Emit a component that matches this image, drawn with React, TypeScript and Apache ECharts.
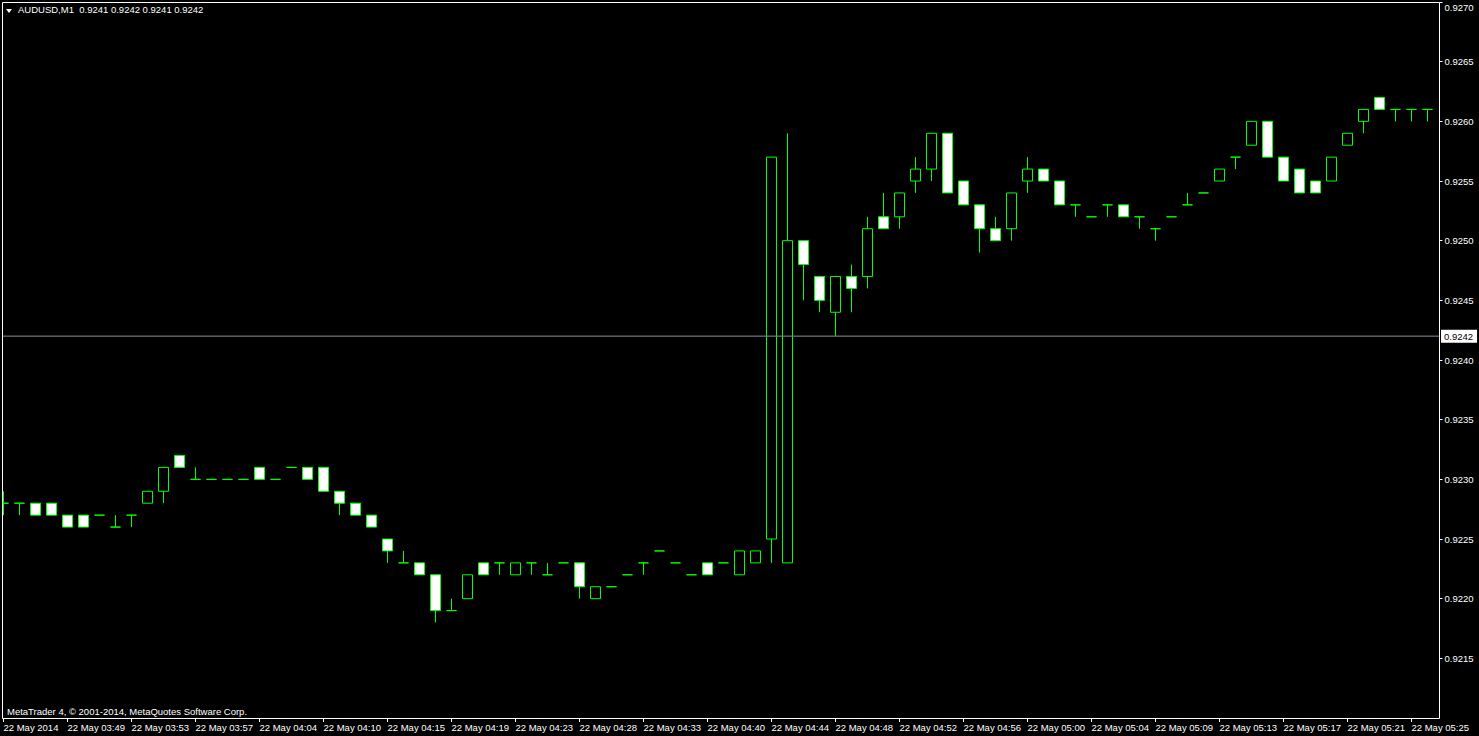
import React, { useEffect, useRef } from "react";
import * as echarts from "echarts";

// Bar prices (AUDUSD M1), one entry per bar
const opens = [
  0.9228, 0.9228, 0.9228, 0.9228, 0.9227, 0.9227, 0.9227, 0.9226, 0.9227, 0.9228,
  0.9229, 0.9232, 0.9230, 0.9230, 0.9230, 0.9230, 0.9231, 0.9230, 0.9231, 0.9231,
  0.9231, 0.9229, 0.9228, 0.9227, 0.9225, 0.9223, 0.9223, 0.9222, 0.9219, 0.9220,
  0.9223, 0.9223, 0.9222, 0.9223, 0.9222, 0.9223, 0.9223, 0.9220, 0.9221, 0.9222,
  0.9223, 0.9224, 0.9223, 0.9222, 0.9223, 0.9223, 0.9222, 0.9223, 0.9225, 0.9223,
  0.9250, 0.9247, 0.9244, 0.9247, 0.9247, 0.9252, 0.9252, 0.9255, 0.9256, 0.9259,
  0.9255, 0.9253, 0.9251, 0.9251, 0.9255, 0.9256, 0.9255, 0.9253, 0.9252, 0.9253,
  0.9253, 0.9252, 0.9251, 0.9252, 0.9253, 0.9254, 0.9255, 0.9257, 0.9258, 0.9260,
  0.9257, 0.9256, 0.9255, 0.9255, 0.9258, 0.9260, 0.9262, 0.9261, 0.9261, 0.9261,
];
const closes = [
  0.9228, 0.9228, 0.9227, 0.9227, 0.9226, 0.9226, 0.9227, 0.9226, 0.9227, 0.9229,
  0.9231, 0.9231, 0.9230, 0.9230, 0.9230, 0.9230, 0.9230, 0.9230, 0.9231, 0.9230,
  0.9229, 0.9228, 0.9227, 0.9226, 0.9224, 0.9223, 0.9222, 0.9219, 0.9219, 0.9222,
  0.9222, 0.9223, 0.9223, 0.9223, 0.9222, 0.9223, 0.9221, 0.9221, 0.9221, 0.9222,
  0.9223, 0.9224, 0.9223, 0.9222, 0.9222, 0.9223, 0.9224, 0.9224, 0.9257, 0.9250,
  0.9248, 0.9245, 0.9247, 0.9246, 0.9251, 0.9251, 0.9254, 0.9256, 0.9259, 0.9254,
  0.9253, 0.9251, 0.9250, 0.9254, 0.9256, 0.9255, 0.9253, 0.9253, 0.9252, 0.9253,
  0.9252, 0.9252, 0.9251, 0.9252, 0.9253, 0.9254, 0.9256, 0.9257, 0.9260, 0.9257,
  0.9255, 0.9254, 0.9254, 0.9257, 0.9259, 0.9261, 0.9261, 0.9261, 0.9261, 0.9261,
];
const lows = [
  0.9227, 0.9227, 0.9227, 0.9227, 0.9226, 0.9226, 0.9227, 0.9226, 0.9226, 0.9228,
  0.9228, 0.9231, 0.9230, 0.9230, 0.9230, 0.9230, 0.9230, 0.9230, 0.9231, 0.9230,
  0.9229, 0.9227, 0.9227, 0.9226, 0.9223, 0.9223, 0.9222, 0.9218, 0.9219, 0.9220,
  0.9222, 0.9222, 0.9222, 0.9222, 0.9222, 0.9223, 0.9220, 0.9220, 0.9221, 0.9222,
  0.9222, 0.9224, 0.9223, 0.9222, 0.9222, 0.9223, 0.9222, 0.9223, 0.9223, 0.9223,
  0.9245, 0.9244, 0.9242, 0.9244, 0.9246, 0.9251, 0.9251, 0.9254, 0.9255, 0.9254,
  0.9253, 0.9249, 0.9250, 0.9250, 0.9254, 0.9255, 0.9253, 0.9252, 0.9252, 0.9252,
  0.9252, 0.9251, 0.9250, 0.9252, 0.9253, 0.9254, 0.9255, 0.9256, 0.9258, 0.9257,
  0.9255, 0.9254, 0.9254, 0.9255, 0.9258, 0.9259, 0.9261, 0.9260, 0.9260, 0.9260,
];
const highs = [
  0.9229, 0.9228, 0.9228, 0.9228, 0.9227, 0.9227, 0.9227, 0.9227, 0.9227, 0.9229,
  0.9231, 0.9232, 0.9231, 0.9230, 0.9230, 0.9230, 0.9231, 0.9230, 0.9231, 0.9231,
  0.9231, 0.9229, 0.9228, 0.9227, 0.9225, 0.9224, 0.9223, 0.9222, 0.9220, 0.9222,
  0.9223, 0.9223, 0.9223, 0.9223, 0.9223, 0.9223, 0.9223, 0.9221, 0.9221, 0.9222,
  0.9223, 0.9224, 0.9223, 0.9222, 0.9223, 0.9223, 0.9224, 0.9224, 0.9257, 0.9259,
  0.9250, 0.9247, 0.9247, 0.9248, 0.9252, 0.9254, 0.9254, 0.9257, 0.9259, 0.9259,
  0.9255, 0.9253, 0.9252, 0.9254, 0.9257, 0.9256, 0.9255, 0.9253, 0.9252, 0.9253,
  0.9253, 0.9252, 0.9251, 0.9252, 0.9254, 0.9254, 0.9256, 0.9257, 0.9260, 0.9260,
  0.9257, 0.9256, 0.9255, 0.9257, 0.9259, 0.9261, 0.9262, 0.9261, 0.9261, 0.9261,
];

// Time-axis labels, one every 4 bars
const timeLabels = [
  "22 May 2014", "22 May 03:49", "22 May 03:53", "22 May 03:57", "22 May 04:04",
  "22 May 04:10", "22 May 04:15", "22 May 04:19", "22 May 04:23", "22 May 04:28",
  "22 May 04:33", "22 May 04:40", "22 May 04:44", "22 May 04:48", "22 May 04:52",
  "22 May 04:56", "22 May 05:00", "22 May 05:04", "22 May 05:09", "22 May 05:13",
  "22 May 05:17", "22 May 05:21", "22 May 05:25",
];
const labelEvery = 4;

const symbolTitle = "AUDUSD,M1";
const headerQuote = [0.9241, 0.9242, 0.9241, 0.9242];
const bidPrice = 0.9242;
const priceMin = 0.921;
const priceMax = 0.927;
const priceStep = 0.0005;
const copyright = "MetaTrader 4, \u00a9 2001-2014, MetaQuotes Software Corp.";

const FONT = '"Liberation Sans", Arial, sans-serif';
const GREEN = "#00ff00";
// the chart canvas starts SHIFT px left of the page so the first bar can be cut by the frame
const SHIFT = 8;
const W = 1479;
const H = 736;

export default function App() {
  const ref = useRef<HTMLDivElement>(null);

  useEffect(() => {
    document.body.style.margin = "0";
    document.body.style.background = "#000";
    if (!ref.current) return;
    const chart = echarts.init(ref.current, undefined, { renderer: "svg" });

    const categories = opens.map((_, i) => String(i));
    const candles = opens.map((o, i) => [o, closes[i], lows[i], highs[i]]);

    chart.setOption({
      animation: false,
      backgroundColor: "#000000",
      title: {
        text: symbolTitle + "  " + headerQuote.map((v) => v.toFixed(4)).join(" "),
        left: 18 + SHIFT,
        top: 4,
        padding: 0,
        textStyle: { color: "#ffffff", fontSize: 9.5, fontWeight: "normal", fontFamily: FONT },
      },
      grid: [
        // candle grid: bar centres every 16 px
        { left: 3.5, right: W - 1435.5, top: 2, bottom: 18 },
        // frame-wide grid for the bid line
        { left: 2 + SHIFT, right: W - 1439, top: 2, bottom: 18 },
      ],
      xAxis: [
        {
          type: "category",
          gridIndex: 0,
          data: categories,
          boundaryGap: true,
          axisLine: { show: false },
          axisTick: {
            show: true,
            interval: labelEvery - 1,
            alignWithLabel: true,
            length: 4,
            lineStyle: { color: "#ffffff" },
          },
          axisLabel: {
            interval: labelEvery - 1,
            align: "left",
            margin: 4,
            color: "#ffffff",
            fontSize: 9.5,
            fontFamily: FONT,
            hideOverlap: false,
            formatter: (_v: string, idx: number) =>
              idx % labelEvery === 0 ? timeLabels[idx / labelEvery] : "",
          },
          splitLine: { show: false },
        },
        {
          type: "value",
          gridIndex: 1,
          min: 0,
          max: 1,
          show: false,
        },
      ],
      yAxis: [
        {
          type: "value",
          gridIndex: 0,
          position: "right",
          offset: 4,
          min: priceMin,
          max: priceMax,
          interval: priceStep,
          axisLine: { show: false },
          axisTick: { show: true, length: 3, lineStyle: { color: "#ffffff" } },
          axisLabel: {
            color: "#ffffff",
            fontSize: 9.5,
            fontFamily: FONT,
            margin: 5,
            showMinLabel: false,
            verticalAlignMaxLabel: "top",
            formatter: (v: number) => v.toFixed(4),
          },
          splitLine: { show: false },
        },
        {
          type: "value",
          gridIndex: 1,
          min: priceMin,
          max: priceMax,
          show: false,
        },
      ],
      series: [
        {
          type: "candlestick",
          xAxisIndex: 0,
          yAxisIndex: 0,
          data: candles,
          barWidth: 10,
          itemStyle: {
            color: "#000000",
            color0: "#ffffff",
            borderColor: GREEN,
            borderColor0: GREEN,
            borderColorDoji: GREEN,
            borderWidth: 1,
          },
        },
        {
          type: "line",
          name: "bid",
          xAxisIndex: 1,
          yAxisIndex: 1,
          data: [
            [0, bidPrice],
            [1, bidPrice],
          ],
          symbol: "none",
          showSymbol: false,
          silent: true,
          clip: false,
          lineStyle: { color: "#8592a0", width: 1, type: "solid" },
          endLabel: {
            show: true,
            distance: 2,
            formatter: () => bidPrice.toFixed(4),
            color: "#000000",
            backgroundColor: "#ffffff",
            padding: [2, 4, 1, 3],
            fontSize: 9.5,
            fontFamily: FONT,
          },
        },
      ],
      graphic: [
        {
          type: "rect",
          z: 100,
          shape: { x: 0, y: 0, width: 2 + SHIFT, height: H },
          style: { fill: "#000000" },
        },
        {
          type: "rect",
          z: 101,
          shape: { x: 2.5 + SHIFT, y: 2.5, width: 1437, height: 716 },
          style: { fill: "none", stroke: "#ffffff", lineWidth: 1 },
        },
        {
          type: "polygon",
          z: 101,
          shape: { points: [[6 + SHIFT, 9], [12 + SHIFT, 9], [9 + SHIFT, 13]] },
          style: { fill: "#ffffff" },
        },
        {
          type: "text",
          z: 101,
          left: 7 + SHIFT,
          top: 706,
          style: { text: copyright, fill: "#ffffff", fontSize: 9.5, fontFamily: FONT },
        },
      ],
    });

    return () => chart.dispose();
  }, []);

  return (
    <div style={{ width: W, height: H, overflow: "hidden", position: "relative", background: "#000" }}>
      <div ref={ref} style={{ position: "absolute", left: -SHIFT, top: 0, width: W + SHIFT, height: H }} />
    </div>
  );
}
